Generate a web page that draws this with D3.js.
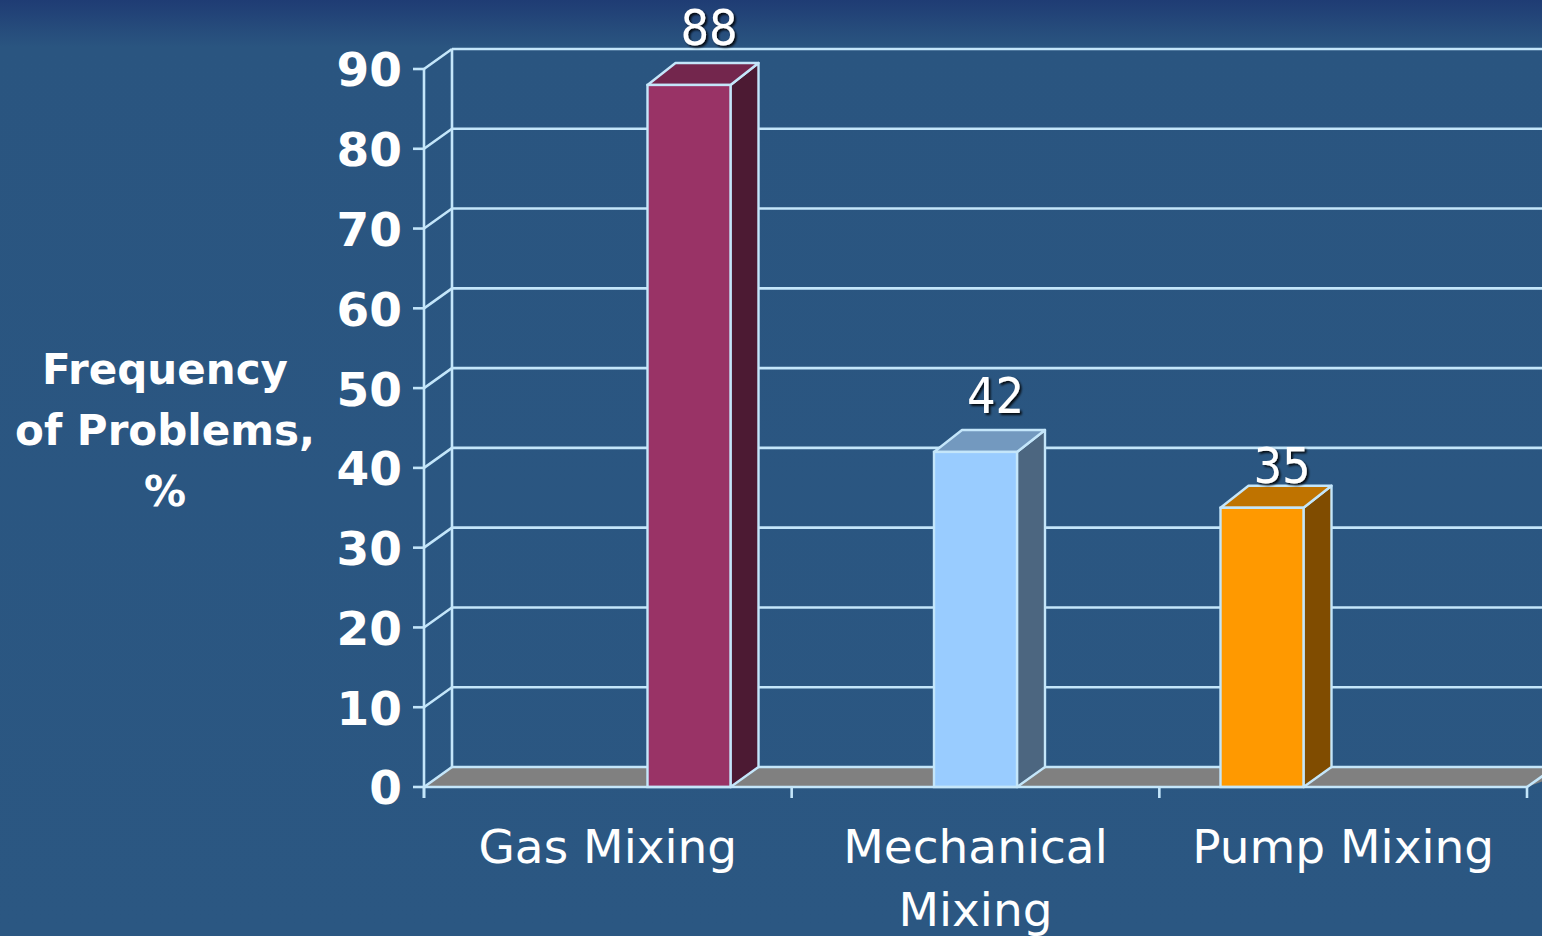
<!DOCTYPE html>
<html>
<head>
<meta charset="utf-8">
<script src="https://cdn.jsdelivr.net/npm/d3@7/dist/d3.min.js"></script>
<style>
  html, body { margin: 0; padding: 0; background: #2B5782; }
  svg { display: block; }
</style>
</head>
<body>
<svg id="chart" width="1542" height="936"></svg>
<script>
// ---- data ----
const categories = ["Gas Mixing", "Mechanical Mixing", "Pump Mixing"];
const categoryLines = [["Gas Mixing"], ["Mechanical", "Mixing"], ["Pump Mixing"]];
const values = [88, 42, 35];
const yTicks = [0, 10, 20, 30, 40, 50, 60, 70, 80, 90];
const yTitleLines = ["Frequency", "of Problems,", "%"];

// ---- colours per bar: front, side, top ----
const frontColors = ["#993366", "#99CCFF", "#FF9900"];
const sideColors  = ["#4C1A33", "#4C6680", "#804C00"];
const topColors   = ["#73264D", "#7399BF", "#BF7300"];
// vertical lift of each value label above its bar top
const labelLift = [40, 39, 25];

const W = 1542, H = 936;
const edge = "#C4E6FA";
const depthX = 28, depthY = -20;

const svg = d3.select("#chart");
const defs = svg.append("defs");

const bg = defs.append("linearGradient").attr("id", "bgGrad")
  .attr("x1", 0).attr("y1", 0).attr("x2", 0).attr("y2", 1);
bg.append("stop").attr("offset", "0").attr("stop-color", "#1F3C74");
bg.append("stop").attr("offset", "0.05").attr("stop-color", "#2A5580");
bg.append("stop").attr("offset", "1").attr("stop-color", "#2B5782");

const shadow = defs.append("filter").attr("id", "txtShadow")
  .attr("x", "-20%").attr("y", "-20%").attr("width", "150%").attr("height", "150%");
shadow.append("feDropShadow").attr("dx", 2).attr("dy", 2)
  .attr("stdDeviation", 1).attr("flood-color", "#000").attr("flood-opacity", 0.85);

svg.append("rect").attr("width", W).attr("height", H).attr("fill", "url(#bgGrad)");

// ---- scales ----
const y = d3.scaleLinear().domain([0, 90]).range([787, 69]);
const xAxis = d3.scaleBand().domain(categories).range([424, 1527]);
const xBar = d3.scalePoint().domain(categories).range([689, 1262]);
const barW = 83;

const x0 = xAxis.range()[0];
const x1 = xAxis.range()[1];

// ---- floor ----
svg.append("polygon")
  .attr("points", [
    [x0, y(0)], [x0 + depthX, y(0) + depthY],
    [W + 40, y(0) + depthY], [x1, y(0)]
  ].map(p => p.join(",")).join(" "))
  .attr("fill", "#808080");

// ---- back wall gridlines ----
const grid = svg.append("g").attr("stroke", edge).attr("stroke-width", 2.6).attr("fill", "none");
grid.selectAll("line.h").data(yTicks).join("line")
  .attr("class", "h")
  .attr("x1", x0 + depthX).attr("x2", W)
  .attr("y1", d => y(d) + depthY).attr("y2", d => y(d) + depthY);
// side wall diagonals
grid.selectAll("line.d").data(yTicks).join("line")
  .attr("class", "d")
  .attr("x1", x0).attr("y1", d => y(d))
  .attr("x2", x0 + depthX).attr("y2", d => y(d) + depthY);
// back wall corner
grid.append("line")
  .attr("x1", x0 + depthX).attr("x2", x0 + depthX)
  .attr("y1", y(90) + depthY).attr("y2", y(0) + depthY);
// floor right diagonal
grid.append("line")
  .attr("x1", x1).attr("y1", y(0))
  .attr("x2", x1 + depthX).attr("y2", y(0) + depthY);

// ---- bars ----
const bars = svg.append("g").selectAll("g.bar")
  .data(categories.map((c, i) => ({ c, v: values[i], i })))
  .join("g").attr("class", "bar");

bars.each(function (d) {
  const g = d3.select(this);
  const l = xBar(d.c) - barW / 2, r = xBar(d.c) + barW / 2;
  const t = y(d.v), b = y(0);
  const pts = a => a.map(p => p.join(",")).join(" ");
  // side face
  g.append("polygon")
    .attr("points", pts([[r, b], [r + depthX, b + depthY], [r + depthX, t + depthY - 2], [r, t]]))
    .attr("fill", sideColors[d.i]).attr("stroke", edge).attr("stroke-width", 2.4).attr("stroke-linejoin", "round");
  // top face
  g.append("polygon")
    .attr("points", pts([[l, t], [l + depthX, t + depthY - 2], [r + depthX, t + depthY - 2], [r, t]]))
    .attr("fill", topColors[d.i]).attr("stroke", edge).attr("stroke-width", 2.4).attr("stroke-linejoin", "round");
  // front face
  g.append("rect")
    .attr("x", l).attr("y", t).attr("width", barW).attr("height", b - t)
    .attr("fill", frontColors[d.i]).attr("stroke", edge).attr("stroke-width", 2.4);
});

// ---- front floor edge and axis lines ----
const axes = svg.append("g").attr("stroke", edge).attr("stroke-width", 2.6);
axes.append("line").attr("x1", x0).attr("x2", x1).attr("y1", y(0)).attr("y2", y(0));
axes.append("line").attr("x1", x0).attr("x2", x0).attr("y1", y(90)).attr("y2", y(0) + 11);
axes.selectAll("line.yt").data(yTicks).join("line")
  .attr("class", "yt")
  .attr("x1", x0 - 11).attr("x2", x0)
  .attr("y1", d => y(d)).attr("y2", d => y(d));
const xTickPos = [x0, ...categories.map(c => xAxis(c) + xAxis.bandwidth())];
axes.selectAll("line.xt").data(xTickPos).join("line")
  .attr("class", "xt")
  .attr("x1", d => d).attr("x2", d => d)
  .attr("y1", y(0)).attr("y2", y(0) + 11);

// ---- y tick labels ----
svg.append("g").selectAll("text").data(yTicks).join("text")
  .attr("x", 402).attr("y", d => y(d))
  .attr("dy", "0.37em")
  .attr("text-anchor", "end")
  .attr("font-family", "DejaVu Sans")
  .attr("font-weight", "bold")
  .attr("font-size", 47)
  .attr("fill", "#fff")
  .text(d => d);

// ---- y axis title ----
svg.append("text")
  .attr("text-anchor", "middle")
  .attr("font-family", "DejaVu Sans")
  .attr("font-weight", "bold")
  .attr("font-size", 42)
  .attr("fill", "#fff")
  .selectAll("tspan").data(yTitleLines).join("tspan")
  .attr("x", 165).attr("y", (d, i) => 384 + i * 61)
  .text(d => d);

// ---- category labels ----
svg.append("g").selectAll("text").data(categories).join("text")
  .attr("text-anchor", "middle")
  .attr("font-family", "DejaVu Sans")
  .attr("font-size", 47)
  .attr("fill", "#fff")
  .each(function (c, i) {
    d3.select(this).selectAll("tspan").data(categoryLines[i]).join("tspan")
      .attr("x", xAxis(c) + xAxis.bandwidth() / 2)
      .attr("y", (d, j) => 863 + j * 63)
      .text(d => d);
  });

// ---- value labels ----
svg.append("g").selectAll("text").data(values).join("text")
  .attr("x", (d, i) => xBar(categories[i]) + 20)
  .attr("y", (d, i) => y(d) - labelLift[i])
  .attr("text-anchor", "middle")
  .attr("font-family", "'DejaVu Sans Condensed', 'Liberation Sans', sans-serif")
  .attr("font-size", 50)
  .attr("fill", "#fff")
  .attr("filter", "url(#txtShadow)")
  .text(d => d);
</script>
</body>
</html>
